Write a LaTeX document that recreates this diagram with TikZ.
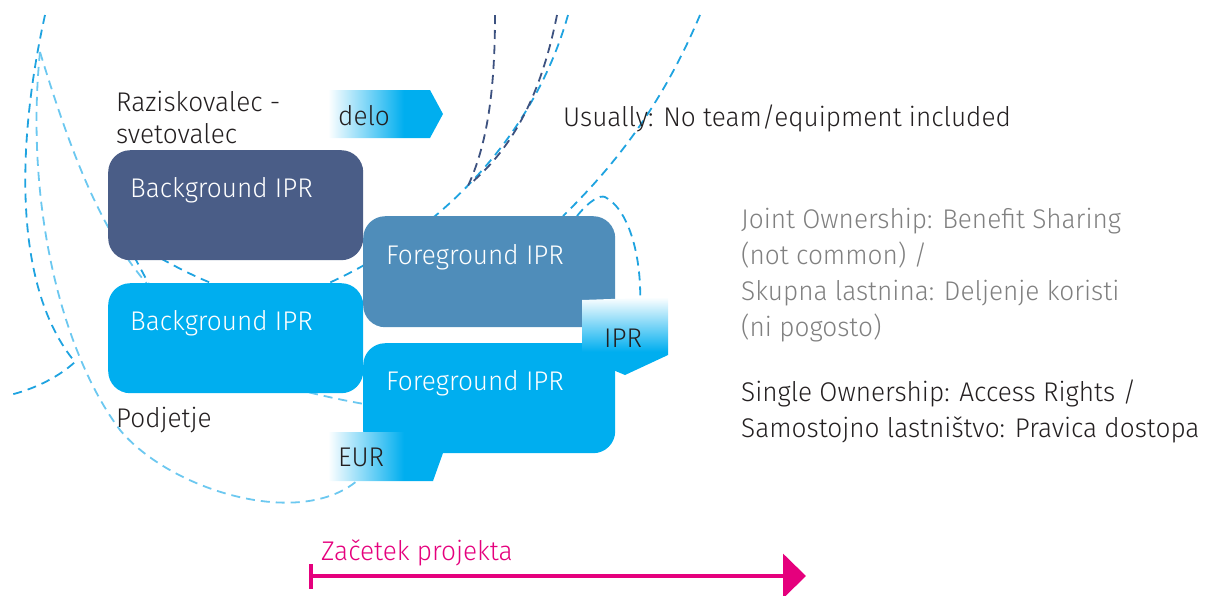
\documentclass[tikz,border=0pt]{standalone}
\usepackage{fontspec}
\setmainfont{Fira Sans}[UprightFont=* Light, FakeStretch=0.97]
\usetikzlibrary{arrows.meta}

\definecolor{ipnavy}{HTML}{4A5D87}
\definecolor{ipsteel}{HTML}{4F8DBA}
\definecolor{ipcyan}{HTML}{00AEEF}
\definecolor{iplight}{HTML}{6CC8F0}
\definecolor{ipmid}{HTML}{1FA3E0}
\definecolor{ipdark}{HTML}{3D5280}
\definecolor{ipmag}{HTML}{E5007D}
\definecolor{ipgray}{HTML}{808080}
\definecolor{ipink}{HTML}{231F20}

\pgfdeclarehorizontalshading{faderight}{100bp}{color(0bp)=(white); color(25bp)=(white); color(58bp)=(ipcyan); color(100bp)=(ipcyan)}
\pgfdeclareverticalshading{fadedown}{100bp}{color(0bp)=(ipcyan); color(40bp)=(ipcyan); color(75bp)=(white); color(100bp)=(white)}

\tikzset{
  iprbox/.style={rounded corners=22pt, inner sep=0pt, anchor=north west,
    minimum width=255pt, minimum height=110pt},
  boxtext/.style={text=white, anchor=base west, inner sep=0pt},
  plain/.style={text=ipink, anchor=base west, inner sep=0pt},
  note/.style={text=ipgray, anchor=base west, inner sep=0pt},
  arc/.style={dashed, dash pattern=on 9pt off 6pt, line width=1.8pt}
}

\begin{document}
\begin{tikzpicture}[x=1pt,y=-1pt,font=\fontsize{27}{33}\selectfont]
\useasboundingbox (0,0) rectangle (1220,595);
% dashed arcs behind the boxes
\draw[arc,ipmid] (45,15) .. controls (15,150) and (15,290) .. (75,362)
  .. controls (55,380) and (30,390) .. (10,395);
\draw[arc,iplight] (40,52) .. controls (25,200) and (60,350) .. (120,430)
  .. controls (170,490) and (300,530) .. (358,480);
\draw[arc,iplight] (40,52) .. controls (70,150) and (100,230) .. (148,285);
\draw[arc,ipmid] (120,230) -- (152,290);
\draw[arc,ipmid] (568,15) .. controls (530,150) and (420,250) .. (300,295)
  .. controls (250,305) and (200,280) .. (160,258);
\draw[arc,ipdark] (495,15) .. controls (495,100) and (485,150) .. (467,188);
\draw[arc,ipdark] (557,15) .. controls (540,100) and (510,150) .. (470,184);
\draw[arc,ipmid] (700,15) .. controls (660,110) and (610,170) .. (563,216);
\draw[arc,ipmid] (577,216) .. controls (590,200) and (600,195) .. (605,197)
  .. controls (630,210) and (642,260) .. (640,305);
\draw[arc,iplight] (280,385) .. controls (310,393) and (340,400) .. (370,405);

% boxes
\node[iprbox,fill=ipnavy] (bgres) at (108,150) {};
\node[iprbox,fill=ipcyan] (bgcomp) at (108,283) {};
\node[iprbox,fill=ipsteel,minimum width=252pt,minimum height=111pt] (fgjoint) at (363,216) {};
\node[iprbox,fill=ipcyan,minimum width=252pt] (fgsingle) at (363,343) {};
\node[boxtext] (bgrestxt) at (130,197) {Background IPR};
\node[boxtext] (bgcomptxt) at (130,330) {Background IPR};
\node[boxtext] (fgjointtxt) at (386,264) {Foreground IPR};
\node[boxtext] (fgsingletxt) at (386,390) {Foreground IPR};

% tags
\shade[shading=faderight] (328,90) -- (430,90) -- (443,114) -- (430,138) -- (328,138) -- cycle;
\node[plain] (delo) at (338,125) {delo};
\shade[shading=fadedown] (582,300) -- (668,297) -- (668,355) -- (625,375) -- (582,357) -- cycle;
\node[plain] (ipr) at (604,347) {IPR};
\shade[shading=faderight] (328,432) -- (440,432) -- (443,453) -- (433,481) -- (328,481) -- cycle;
\node[plain] (eur) at (338,466) {EUR};

% labels
\node[plain] (res1) at (116,111) {Raziskovalec -};
\node[plain] (res2) at (116,143) {svetovalec};
\node[plain] (comp) at (116,427) {Podjetje};
\node[plain] (usual) at (563,126) {Usually: No team/equipment included};
\node[note] (joint1) at (741,228) {Joint Ownership: Benefit Sharing};
\node[note] (joint2) at (741,264) {(not common) /};
\node[note] (joint3) at (741,300) {Skupna lastnina: Deljenje koristi};
\node[note] (joint4) at (741,336) {(ni pogosto)};
\node[plain] (single1) at (741,401) {Single Ownership: Access Rights /};
\node[plain] (single2) at (741,437) {Samostojno lastništvo: Pravica dostopa};

% time line
\node[plain,text=ipmag] (start) at (321,560) {Začetek projekta};
\coordinate (tstart) at (309,576);
\coordinate (tend) at (806,576);
\draw[ipmag,line width=4pt,{Bar[width=25pt,line width=4pt]}-{Triangle[length=23pt,width=44pt]}] (tstart) -- (tend);
\end{tikzpicture}
\end{document}
